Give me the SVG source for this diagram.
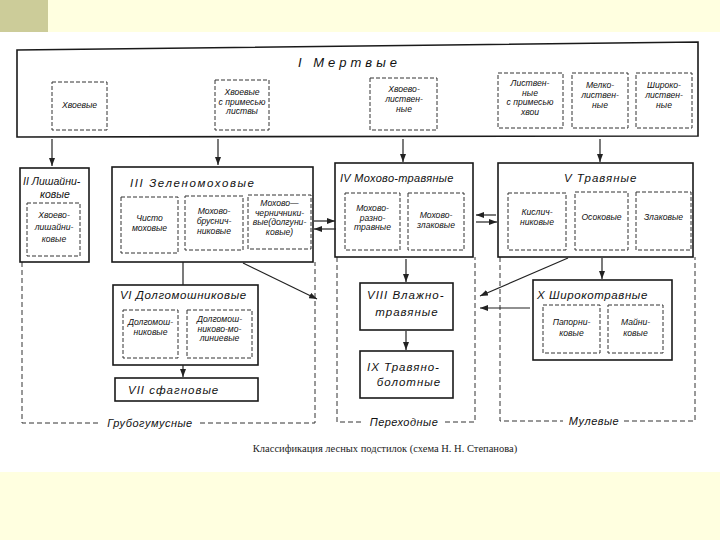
<svg xmlns="http://www.w3.org/2000/svg" width="720" height="540" viewBox="0 0 720 540">
<defs>
<marker id="ah" viewBox="0 0 8 6" refX="8" refY="3" markerWidth="8" markerHeight="6" markerUnits="userSpaceOnUse" orient="auto">
<path d="M0 0 L8 3 L0 6 Z" fill="#222"/>
</marker>
<style>
.box{fill:none;stroke:#1a1a1a;stroke-width:1.6}
.dbox{fill:none;stroke:#333;stroke-width:1;stroke-dasharray:4 2}
.grp{fill:none;stroke:#333;stroke-width:1;stroke-dasharray:5 3}
.t{font-family:"Liberation Sans","DejaVu Sans",sans-serif;font-style:italic;font-size:8.6px;fill:#111;text-anchor:middle}
.h{font-family:"Liberation Sans","DejaVu Sans",sans-serif;font-style:italic;font-size:11.5px;fill:#111;letter-spacing:0.6px}
.g{font-family:"Liberation Sans","DejaVu Sans",sans-serif;font-style:italic;font-size:11px;fill:#111;text-anchor:middle;letter-spacing:0.5px}
.a{fill:none;stroke:#222;stroke-width:1.2;marker-end:url(#ah)}
.l{fill:none;stroke:#222;stroke-width:1.2}
.cap{font-family:"Liberation Serif","DejaVu Serif",serif;font-size:10.5px;fill:#222;text-anchor:middle}
</style>
</defs>
<rect x="0" y="0" width="720" height="540" fill="#FFFFE0"/>
<rect x="0" y="0" width="48" height="32" fill="#CCCC99"/>
<rect x="0" y="32" width="720" height="440" fill="#FFFFFF"/>

<g id="groups">
<path class="grp" d="M22 262 V423 H100"/>
<path class="grp" d="M200 423 H315 V262"/>
<text class="g" x="150" y="427">Грубогумусные</text>
<path class="grp" d="M337 257 V422 H363"/>
<path class="grp" d="M445 422 H475 V257"/>
<text class="g" x="404" y="426">Переходные</text>
<path class="grp" d="M500 257 V421 H563"/>
<path class="grp" d="M624 421 H695 V257"/>
<text class="g" x="594" y="425">Мулевые</text>
</g>

<g id="node-I">
<path class="box" d="M17 50 L698 42 L698 136 L17 137 Z"/>
<text class="h" x="298" y="67" style="font-size:13px;letter-spacing:4px">I  Мертвые</text>
<rect class="dbox" x="52" y="82" width="55" height="48"/>
<text class="t" x="79.5" y="108">Хвоевые</text>
<rect class="dbox" x="215" y="80" width="54" height="50"/>
<text class="t" x="242" y="95">Хвоевые</text>
<text class="t" x="242" y="104.5">с примесью</text>
<text class="t" x="242" y="114">листвы</text>
<rect class="dbox" x="370" y="78" width="67" height="52"/>
<text class="t" x="404" y="92">Хвоево-</text>
<text class="t" x="404" y="102">листвен-</text>
<text class="t" x="404" y="112">ные</text>
<rect class="dbox" x="498" y="73" width="65" height="55"/>
<text class="t" x="530" y="86">Листвен-</text>
<text class="t" x="530" y="95.5">ные</text>
<text class="t" x="530" y="105">с примесью</text>
<text class="t" x="530" y="114.5">хвои</text>
<rect class="dbox" x="572" y="73" width="56" height="55"/>
<text class="t" x="600" y="88">Мелко-</text>
<text class="t" x="600" y="98">листвен-</text>
<text class="t" x="600" y="108">ные</text>
<rect class="dbox" x="636" y="73" width="56" height="55"/>
<text class="t" x="664" y="88">Широко-</text>
<text class="t" x="664" y="98">листвен-</text>
<text class="t" x="664" y="108">ные</text>
</g>

<g id="node-II">
<rect class="box" x="20" y="168" width="69" height="94"/>
<text class="h" x="23" y="185" style="font-size:10.5px;letter-spacing:0px">II Лишайни-</text>
<text class="h" x="55" y="198" style="font-size:10.5px;text-anchor:middle;letter-spacing:0px">ковые</text>
<rect class="dbox" x="27" y="203" width="53" height="53"/>
<text class="t" x="54" y="218">Хвоево-</text>
<text class="t" x="54" y="230">лишайни-</text>
<text class="t" x="54" y="242">ковые</text>
</g>

<g id="node-III">
<rect class="box" x="112" y="167" width="201" height="95"/>
<text class="h" x="130" y="187" style="letter-spacing:1.6px">III  Зеленомоховые</text>
<rect class="dbox" x="121" y="197" width="57" height="56"/>
<text class="t" x="149.5" y="221">Чисто</text>
<text class="t" x="149.5" y="231">моховые</text>
<rect class="dbox" x="185" y="196" width="58" height="54"/>
<text class="t" x="214" y="214">Мохово-</text>
<text class="t" x="214" y="224">бруснич-</text>
<text class="t" x="214" y="234">никовые</text>
<rect class="dbox" x="248" y="195" width="63" height="54"/>
<text class="t" x="279.5" y="206">Мохово—</text>
<text class="t" x="279.5" y="215.5">черничники-</text>
<text class="t" x="279.5" y="225">вые(долгуни-</text>
<text class="t" x="279.5" y="234.5">ковые)</text>
</g>

<g id="node-IV">
<rect class="box" x="335" y="163" width="138" height="94"/>
<text class="h" x="340" y="182" style="font-size:11px;letter-spacing:0.3px">IV Мохово-травяные</text>
<rect class="dbox" x="345" y="193" width="55" height="57"/>
<text class="t" x="372.5" y="211">Мохово-</text>
<text class="t" x="372.5" y="220.5">разно-</text>
<text class="t" x="372.5" y="230">травные</text>
<rect class="dbox" x="408" y="193" width="56" height="57"/>
<text class="t" x="436" y="218">Мохово-</text>
<text class="t" x="436" y="228">злаковые</text>
</g>

<g id="node-V">
<rect class="box" x="498" y="163" width="195" height="94"/>
<text class="h" x="564" y="182" style="letter-spacing:1px">V  Травяные</text>
<rect class="dbox" x="508" y="193" width="58" height="57"/>
<text class="t" x="537" y="215">Кислич-</text>
<text class="t" x="537" y="225">никовые</text>
<rect class="dbox" x="575" y="192" width="53" height="58"/>
<text class="t" x="601.5" y="220">Осоковые</text>
<rect class="dbox" x="636" y="192" width="55" height="58"/>
<text class="t" x="663.5" y="220">Злаковые</text>
</g>

<g id="node-VI">
<rect class="box" x="113" y="285" width="145" height="80"/>
<text class="h" x="120" y="299">VI Долгомошниковые</text>
<rect class="dbox" x="123" y="310" width="55" height="48"/>
<text class="t" x="150.5" y="325">Долгомош-</text>
<text class="t" x="150.5" y="335">никовые</text>
<rect class="dbox" x="187" y="310" width="65" height="48"/>
<text class="t" x="219.5" y="322">Долгомош-</text>
<text class="t" x="219.5" y="331.5">никово-мо-</text>
<text class="t" x="219.5" y="341">линиевые</text>
</g>

<g id="node-VII">
<rect class="box" x="115" y="378" width="143" height="23"/>
<text class="h" x="128" y="394" style="letter-spacing:1px">VII сфагновые</text>
</g>

<g id="node-VIII">
<rect class="box" x="360" y="283" width="93" height="47"/>
<text class="h" x="367" y="299" style="letter-spacing:1px">VIII Влажно-</text>
<text class="h" x="407" y="316" style="text-anchor:middle;letter-spacing:1px">травяные</text>
</g>

<g id="node-IX">
<rect class="box" x="360" y="351" width="93" height="47"/>
<text class="h" x="367" y="371" style="letter-spacing:1px">IX Травяно-</text>
<text class="h" x="409" y="386" style="text-anchor:middle;letter-spacing:1px">болотные</text>
</g>

<g id="node-X">
<rect class="box" x="533" y="280" width="139" height="80"/>
<text class="h" x="537" y="299">X Широкотравные</text>
<rect class="dbox" x="543" y="305" width="57" height="48"/>
<text class="t" x="571.5" y="325">Папорни-</text>
<text class="t" x="571.5" y="336">ковые</text>
<rect class="dbox" x="608" y="305" width="55" height="48"/>
<text class="t" x="635.5" y="325">Майни-</text>
<text class="t" x="635.5" y="336">ковые</text>
</g>

<g id="connectors">
<path class="a" d="M52 139 V166"/>
<path class="a" d="M218 139 V165"/>
<path class="a" d="M403 139 V162"/>
<path class="a" d="M600 139 V162"/>
<path class="a" d="M314 221 H335"/>
<path class="a" d="M336 229 H314"/>
<path class="a" d="M496 215 H476"/>
<path class="a" d="M476 222 H497"/>
<path class="a" d="M406 259 V282"/>
<path class="a" d="M406 331 V350"/>
<path class="a" d="M602 258 V279"/>
<path class="l" d="M183 262 V285"/>
<path class="a" d="M183 365 V377"/>
<path class="a" d="M243 263 L317 299"/>
<path class="a" d="M568 258 L480 296"/>
<path class="a" d="M530 308 H480"/>
</g>

<text class="cap" x="385" y="452">Классификация лесных подстилок (схема Н. Н. Степанова)</text>
</svg>
